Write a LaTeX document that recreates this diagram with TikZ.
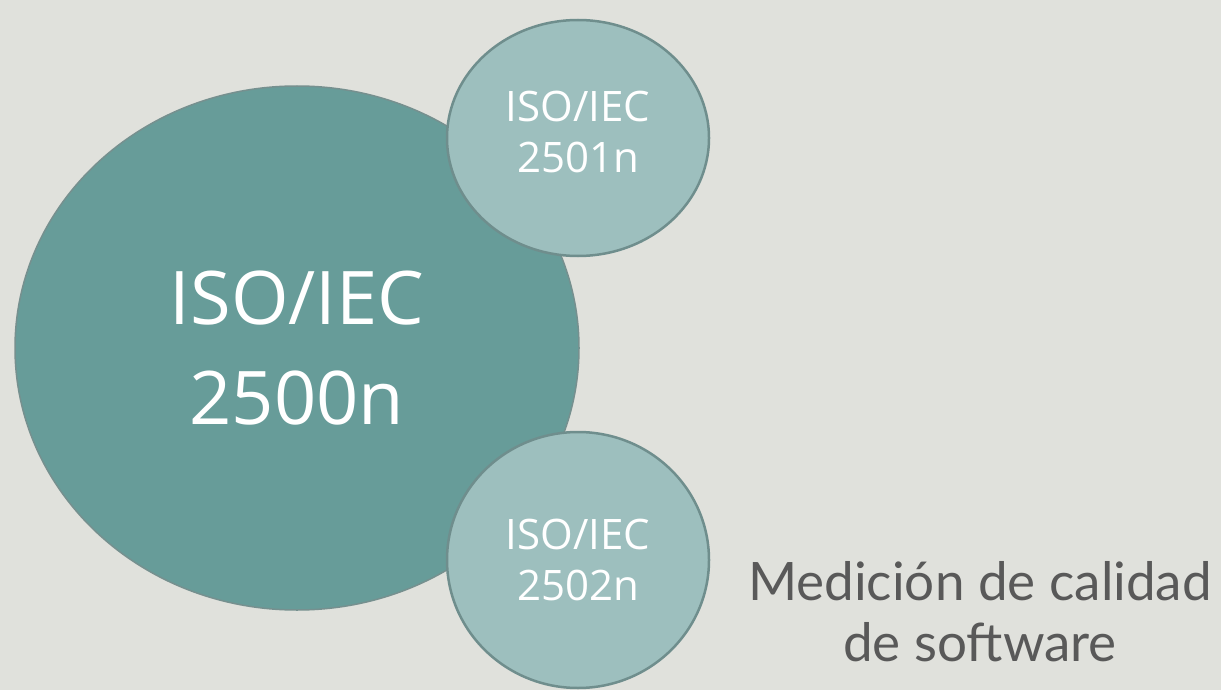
\documentclass[tikz,border=0pt]{standalone}
\usepackage{fontspec}
\setmainfont{Open Sans}
\newfontfamily\labelfont{Lato}
\usepackage{tikz}
\usetikzlibrary{shapes.geometric}
\usetikzlibrary{positioning}
\definecolor{bg}{HTML}{E0E1DC}
\definecolor{bigfill}{HTML}{679C99}
\definecolor{bigline}{HTML}{76908F}
\definecolor{smallfill}{HTML}{9DBFBE}
\definecolor{smallline}{HTML}{6F8E8D}
\definecolor{labelgray}{HTML}{595959}
\tikzset{
    stdbig/.style = {ellipse, draw=bigline, fill=bigfill, line width=1.5pt,
                 inner sep=0pt, text=white, align=center,
                 font=\fontsize{74}{100}\selectfont},
    stdsmall/.style = {ellipse, draw=smallline, fill=smallfill, line width=2.5pt,
                 inner sep=0pt, minimum width=262pt, text=white, align=center,
                 font=\fontsize{42}{51}\selectfont},
}

\begin{document}
\begin{tikzpicture}[x=1pt,y=-1pt]
\useasboundingbox[fill=bg] (0,0) rectangle (1221,690);
\node (iso0) [stdbig, minimum width=564pt, minimum height=524pt] at (297,348)
 {ISO/IEC\\ 2500n};
\node (iso1) [stdsmall, minimum height=236pt] at (578,138) {};
\node (iso1txt) [text=white, align=center, font=\fontsize{42}{51}\selectfont] at (578,132)
 {ISO/IEC\\ 2501n};
\node (iso2) [stdsmall, minimum height=256pt] at (578,560)
 {ISO/IEC\\ 2502n};
\node (measure) [text=labelgray, align=center,
 font=\labelfont\fontsize{53}{61}\selectfont] at (980,612)
 {Medición de calidad\\ de software};
\end{tikzpicture}
\end{document}
